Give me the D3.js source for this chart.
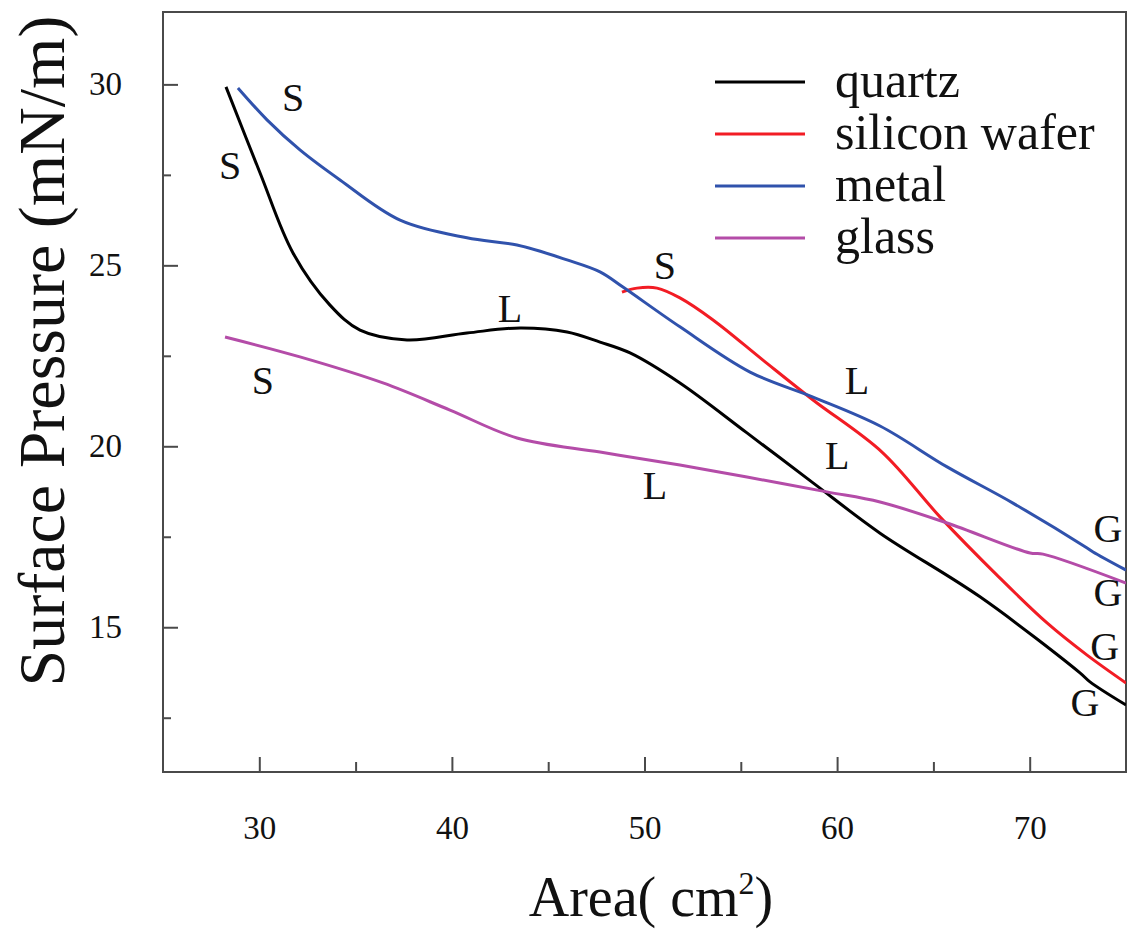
<!DOCTYPE html>
<meta charset="utf-8">
<html>
<head>
<style>
  body { margin: 0; background: #fff; }
  text { font-family: "Liberation Serif", "Times New Roman", serif; fill: #111; }
</style>
</head>
<body>
<div id="chart"></div>
<script src="https://d3js.org/d3.v7.min.js"></script>
<script>

  // Data (area in cm2, surface pressure in mN/m)
  var quartzX = [28.27, 30.04, 31.75, 33.67, 35.23, 37.67, 40.78, 43.54, 45.98, 47.69, 49.25, 51.84, 55.32, 58.75, 62.23, 67.42, 72.61, 73.13, 75.0];
  var quartzY = [29.93, 27.55, 25.34, 23.90, 23.21, 22.94, 23.13, 23.27, 23.16, 22.88, 22.58, 21.75, 20.37, 18.99, 17.60, 15.84, 13.74, 13.49, 12.85];

  var siliconX = [48.83, 49.61, 50.65, 51.84, 53.56, 56.15, 58.75, 62.33, 65.34, 68.30, 70.90, 72.98, 75.0];
  var siliconY = [24.26, 24.37, 24.37, 24.10, 23.49, 22.38, 21.28, 19.84, 18.05, 16.44, 15.12, 14.23, 13.46];

  var metalX = [28.89, 30.40, 32.11, 34.19, 37.31, 40.78, 43.38, 45.98, 47.69, 48.88, 51.84, 55.48, 58.75, 62.23, 65.71, 69.13, 72.98, 73.29, 75.0];
  var metalY = [29.90, 29.02, 28.19, 27.36, 26.25, 25.76, 25.56, 25.15, 24.82, 24.40, 23.30, 22.05, 21.36, 20.56, 19.43, 18.43, 17.19, 17.08, 16.58];

  var glassX = [28.22, 32.11, 36.42, 39.90, 43.38, 47.69, 51.84, 55.32, 59.47, 62.23, 65.71, 70.02, 70.69, 75.0];
  var glassY = [23.02, 22.47, 21.75, 21.00, 20.23, 19.84, 19.48, 19.15, 18.74, 18.46, 17.88, 17.05, 17.02, 16.22];

  var seriesNames = ["quartz", "silicon wafer", "metal", "glass"];
  var seriesColors = ["#000000", "#f21c24", "#3052ac", "#b44ca8"];

  // phase labels on the curves
  var labelText = ["S", "S", "S", "L", "S", "L", "L", "L", "G", "G", "G", "G"];
  var labelX = [28.48, 31.75, 30.19, 43.02, 51.06, 61.03, 60.0, 50.55, 74.06, 74.06, 73.9, 72.87];
  var labelY = [27.77, 29.65, 21.83, 23.82, 25.01, 21.83, 19.76, 18.93, 17.74, 15.95, 14.48, 12.91];

  var xMajor = [30, 40, 50, 60, 70];
  var xMinor = [35, 45, 55, 65];
  var yMajor = [15, 20, 25, 30];
  var yMinor = [12.5, 17.5, 22.5, 27.5];

  var series = [
    {x: quartzX, y: quartzY},
    {x: siliconX, y: siliconY},
    {x: metalX, y: metalY},
    {x: glassX, y: glassY}
  ];

  // Set the dimensions
  var W = 1127, H = 929;
  var margin = {top: 12, right: 1, bottom: 157, left: 163},
      width = W - margin.left - margin.right,
      height = H - margin.top - margin.bottom;

  var svg = d3.select("#chart")
    .append("svg")
      .attr("width", W)
      .attr("height", H)
    .append("g")
      .attr("transform", "translate(" + margin.left + "," + margin.top + ")");

  var x = d3.scaleLinear().domain([25, 75]).range([0, width]);
  var y = d3.scaleLinear().domain([11, 32]).range([height, 0]);

  var axisColor = "#4a4a4a";

  // X axis, ticks pointing inward
  svg.append("g")
    .attr("transform", "translate(0," + height + ")")
    .call(d3.axisBottom(x).tickValues(xMajor).tickSizeInner(-15).tickSizeOuter(0).tickPadding(44));
  svg.append("g")
    .attr("transform", "translate(0," + height + ")")
    .call(d3.axisBottom(x).tickValues(xMinor).tickSizeInner(-10).tickSizeOuter(0).tickFormat(""));

  // Y axis
  svg.append("g")
    .call(d3.axisLeft(y).tickValues(yMajor).tickSizeInner(-15).tickSizeOuter(0).tickPadding(41));
  svg.append("g")
    .call(d3.axisLeft(y).tickValues(yMinor).tickSizeInner(-8).tickSizeOuter(0).tickFormat(""));

  svg.selectAll(".domain").remove();
  svg.selectAll(".tick line").attr("stroke", axisColor).attr("stroke-width", 2);
  svg.selectAll(".tick text")
    .style("font-family", "'Liberation Serif', 'Times New Roman', serif")
    .style("font-size", "33px")
    .attr("fill", "#111");

  // frame
  svg.append("rect")
    .attr("width", width)
    .attr("height", height)
    .attr("fill", "none")
    .attr("stroke", axisColor)
    .attr("stroke-width", 2);

  svg.append("clipPath").attr("id", "clip")
    .append("rect").attr("width", width).attr("height", height);

  var line = d3.line()
    .x(function(d) { return x(d[0]); })
    .y(function(d) { return y(d[1]); })
    .curve(d3.curveCatmullRom.alpha(0.5));

  series.forEach(function(s, i) {
    var pts = s.x.map(function(v, j) { return [v, s.y[j]]; });
    svg.append("path")
      .datum(pts)
      .attr("clip-path", "url(#clip)")
      .attr("fill", "none")
      .attr("stroke", seriesColors[i])
      .attr("stroke-width", 3)
      .attr("stroke-linejoin", "round")
      .attr("d", line);
  });

  // phase letters
  svg.selectAll(".phase")
    .data(labelText)
    .enter().append("text")
      .attr("class", "phase")
      .attr("x", function(d, i) { return x(labelX[i]); })
      .attr("y", function(d, i) { return y(labelY[i]); })
      .attr("dy", "0.34em")
      .attr("text-anchor", "middle")
      .style("font-size", "40px")
      .text(function(d) { return d; });

  // legend
  var legend = svg.append("g").attr("transform", "translate(" + (715 - margin.left) + "," + (82 - margin.top) + ")");
  seriesNames.forEach(function(name, i) {
    legend.append("line")
      .attr("x1", 0).attr("x2", 90)
      .attr("y1", i * 52).attr("y2", i * 52)
      .attr("stroke", seriesColors[i])
      .attr("stroke-width", 3);
    legend.append("text")
      .attr("x", 120)
      .attr("y", i * 52 + 15)
      .style("font-size", "50px")
      .text(name);
  });

  // Axis titles
  var xBase = 916 - margin.top;
  var xt = svg.append("text")
    .attr("x", (527 + 775) / 2 - margin.left)
    .attr("y", xBase)
    .attr("text-anchor", "middle")
    .style("font-size", "56px");
  xt.append("tspan").text("Area( cm");
  xt.append("tspan").attr("dy", -22).style("font-size", "32px").text("2");
  xt.append("tspan").attr("dy", 22).text(")");

  svg.append("text")
    .attr("transform", "translate(" + (64 - margin.left) + "," + (351 - margin.top) + ") rotate(-90)")
    .attr("text-anchor", "middle")
    .style("font-size", "66px")
    .text("Surface Pressure (mN/m)");

</script>
</body>
</html>
